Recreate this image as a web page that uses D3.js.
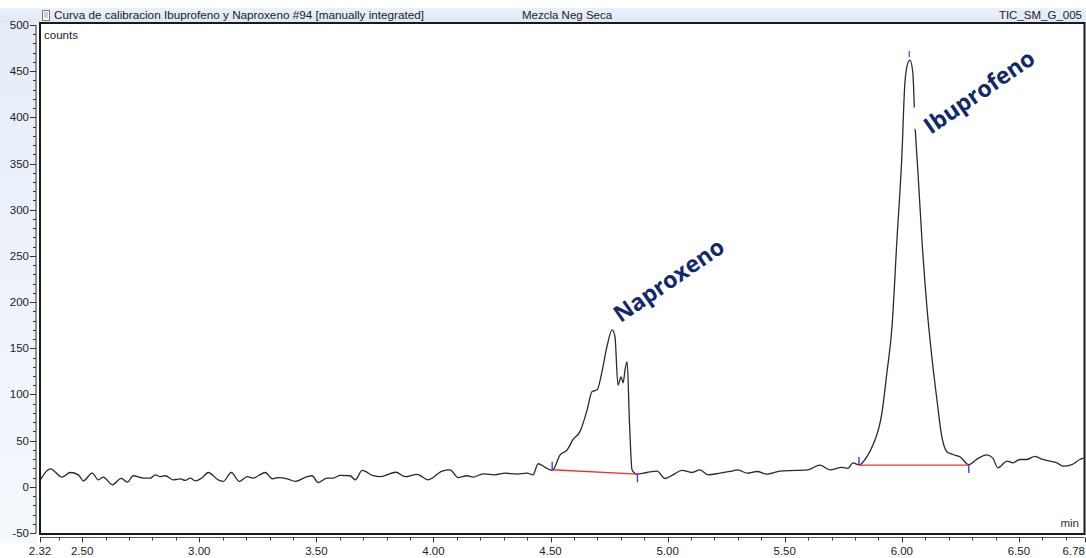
<!DOCTYPE html>
<html>
<head>
<meta charset="utf-8">
<script src="https://cdn.jsdelivr.net/npm/d3@7"></script>
<style>
  html, body { margin: 0; padding: 0; background: #ffffff; overflow: hidden; }
  svg { display: block; }
</style>
</head>
<body>
<svg id="chart" width="1086" height="558"></svg>
<script>
// TIC trace: retention time (min) and detector counts
const retentionTime = [
  2.32, 2.364, 2.415, 2.449, 2.484, 2.505, 2.543, 2.569, 2.590, 2.629,
  2.667, 2.693, 2.718, 2.761, 2.791, 2.812, 2.834, 2.855, 2.889, 2.919,
  2.940, 2.962, 2.983, 3.013, 3.038, 3.081, 3.102, 3.137, 3.171, 3.205,
  3.230, 3.252, 3.282, 3.312, 3.337, 3.376, 3.410, 3.461, 3.482, 3.508,
  3.546, 3.572, 3.602, 3.644, 3.666, 3.696, 3.743, 3.773, 3.840, 3.879,
  3.930, 3.977, 4.037, 4.071, 4.105, 4.144, 4.169, 4.212, 4.263, 4.306,
  4.357, 4.400, 4.425, 4.447, 4.477, 4.507, 4.541, 4.571, 4.596, 4.626,
  4.656, 4.677, 4.699, 4.720, 4.741, 4.763, 4.775, 4.788, 4.801, 4.810,
  4.818, 4.827, 4.837, 4.848, 4.869, 4.912, 4.955, 4.989, 5.023, 5.061,
  5.104, 5.138, 5.172, 5.224, 5.266, 5.300, 5.339, 5.382, 5.424, 5.480,
  5.552, 5.599, 5.650, 5.693, 5.744, 5.770, 5.791, 5.817, 5.851, 5.877,
  5.915, 5.936, 5.958, 5.979, 6.000, 6.013, 6.026, 6.035, 6.047, 6.056,
  6.069, 6.086, 6.107, 6.128, 6.150, 6.171, 6.192, 6.218, 6.248, 6.286,
  6.321, 6.363, 6.389, 6.410, 6.449, 6.474, 6.504, 6.534, 6.568, 6.602,
  6.632, 6.662, 6.688, 6.726, 6.760, 6.78
];
const counts = [
  7, 19.5, 10.5, 15.5, 13, 6.5, 14.8, 7.6, 10.5, 2.2,
  9.2, 5, 12, 9.4, 9.4, 13, 11, 12, 7.6, 8.7,
  6.9, 9.4, 6.5, 10, 15.5, 7.6, 5.8, 15.5, 5.8, 11,
  9.4, 12, 15.5, 8.7, 10, 8.7, 5.8, 11, 12, 4.6,
  9.4, 9.4, 12.3, 12, 7.6, 17.7, 12, 11, 15.8, 11,
  13.5, 7.6, 17, 18.4, 10, 12, 10.5, 14, 13, 14.8,
  13.8, 14.8, 13, 25, 21, 17.7, 34.6, 40, 51, 60,
  83, 103, 105, 125, 152, 170, 163, 110, 119, 112.6,
  126.6, 135.6, 70, 18.4, 13.7, 15.5, 17, 9, 13, 17.7,
  15.5, 18.4, 13, 14.8, 16.6, 18.4, 14.8, 16.6, 13.8, 17,
  17.7, 18.4, 23.4, 18.4, 21, 20, 26, 23.7, 32.8, 45.5,
  80, 123, 173, 267, 357, 437, 459, 462, 448, 394,
  340, 267, 195, 141, 94, 54, 38, 35, 32.5, 24,
  30, 34.6, 31, 20.5, 27.8, 26, 29.6, 29.6, 33, 29.6,
  27.8, 26, 22.4, 24.1, 29.6, 31.4
];

// Manual integration of the two peaks
const peakNames = ["Naproxeno", "Ibuprofeno"];
const peakStartTime = [4.507, 5.817];
const peakEndTime = [4.871, 6.286];
const baselineStartCounts = [18.4, 23.5];
const baselineEndCounts = [13.7, 23.5];
const apexTime = [6.032];
const apexCounts = [462];

// Axis ticks
const xMajorTicks = [2.32, 2.5, 3.0, 3.5, 4.0, 4.5, 5.0, 5.5, 6.0, 6.5, 6.78];
const xMajorLabels = ["2.32", "2.50", "3.00", "3.50", "4.00", "4.50", "5.00", "5.50", "6.00", "6.50", "6.78"];
const xMinorTicks = [2.4, 2.6, 2.7, 2.8, 2.9, 3.1, 3.2, 3.3, 3.4, 3.6, 3.7, 3.8, 3.9,
  4.1, 4.2, 4.3, 4.4, 4.6, 4.7, 4.8, 4.9, 5.1, 5.2, 5.3, 5.4, 5.6, 5.7, 5.8, 5.9,
  6.1, 6.2, 6.3, 6.4, 6.6, 6.7];
const yMajorTicks = [-50, 0, 50, 100, 150, 200, 250, 300, 350, 400, 450, 500];

// Header strings
const titleText = "Curva de calibracion Ibuprofeno y Naproxeno #94 [manually integrated]";
const sampleText = "Mezcla Neg Seca";
const traceText = "TIC_SM_G_005";

const W = 1086, H = 558;
const frame = { left: 40, right: 1084.5, top: 23, bottom: 534 };

const svg = d3.select("#chart");
const font = "'Liberation Sans', Arial, sans-serif";

const x = d3.scaleLinear().domain([2.32, 6.78]).range([frame.left, frame.right]);
const y = d3.scaleLinear().domain([-50, 500]).range([533, 25]);

// Backgrounds: header strip and left axis strip
const defs = svg.append("defs");
const lg = defs.append("linearGradient").attr("id", "sideGrad")
  .attr("x1", 0).attr("y1", 0).attr("x2", 0).attr("y2", 1);
lg.append("stop").attr("offset", "0%").attr("stop-color", "#e6edf8");
lg.append("stop").attr("offset", "100%").attr("stop-color", "#f5f8fd");
const hg = defs.append("linearGradient").attr("id", "headGrad")
  .attr("x1", 0).attr("y1", 0).attr("x2", 0).attr("y2", 1);
hg.append("stop").attr("offset", "0%").attr("stop-color", "#eaf1fb");
hg.append("stop").attr("offset", "100%").attr("stop-color", "#dfe8f6");

svg.append("rect").attr("x", 0).attr("y", 8).attr("width", W).attr("height", 15)
  .attr("fill", "url(#headGrad)");
svg.append("rect").attr("x", 0).attr("y", 23).attr("width", 37).attr("height", 520)
  .attr("fill", "url(#sideGrad)");

defs.append("clipPath").attr("id", "plotClip").append("rect")
  .attr("x", frame.left + 1).attr("y", frame.top + 1)
  .attr("width", frame.right - frame.left - 2).attr("height", frame.bottom - frame.top - 2);

// Plot area
svg.append("rect").attr("x", frame.left).attr("y", frame.top)
  .attr("width", frame.right - frame.left).attr("height", frame.bottom - frame.top)
  .attr("fill", "#ffffff");

// Header icon
const icon = svg.append("g").attr("transform", "translate(42,10)");
icon.append("rect").attr("x", 0.5).attr("y", 0.5).attr("width", 7).attr("height", 10)
  .attr("fill", "#ffffff").attr("stroke", "#777").attr("stroke-width", 1);
[3, 5, 7].forEach(v => icon.append("line").attr("x1", 2).attr("x2", 6)
  .attr("y1", v).attr("y2", v).attr("stroke", "#888").attr("stroke-width", 0.8));

svg.append("text").attr("x", 54).attr("y", 19).attr("font-family", font)
  .attr("font-size", 11).attr("fill", "#222")
  .attr("textLength", 370).attr("lengthAdjust", "spacingAndGlyphs").text(titleText);
svg.append("text").attr("x", 522).attr("y", 19).attr("font-family", font)
  .attr("font-size", 11.5).attr("fill", "#222").text(sampleText);
svg.append("text").attr("x", 1082).attr("y", 19).attr("text-anchor", "end")
  .attr("font-family", font).attr("font-size", 11.5).attr("fill", "#222").text(traceText);

// Y axis (drawn just left of the frame)
const yAxisX = 36;
svg.append("line").attr("x1", yAxisX).attr("x2", yAxisX)
  .attr("y1", y(500)).attr("y2", y(-50)).attr("stroke", "#333").attr("stroke-width", 1);
const yMinor = d3.range(-50, 501, 10).filter(v => v % 50 !== 0);
svg.append("g").selectAll("line").data(yMinor).join("line")
  .attr("x1", yAxisX - 3).attr("x2", yAxisX)
  .attr("y1", d => Math.round(y(d)) + 0.5).attr("y2", d => Math.round(y(d)) + 0.5)
  .attr("stroke", "#333").attr("stroke-width", 1);
svg.append("g").selectAll("line").data(yMajorTicks).join("line")
  .attr("x1", yAxisX - 6).attr("x2", yAxisX)
  .attr("y1", d => Math.round(y(d)) + 0.5).attr("y2", d => Math.round(y(d)) + 0.5)
  .attr("stroke", "#333").attr("stroke-width", 1);
svg.append("g").selectAll("text").data(yMajorTicks).join("text")
  .attr("x", 29).attr("y", d => y(d) + 4).attr("text-anchor", "end")
  .attr("font-family", font).attr("font-size", 11.5).attr("fill", "#222")
  .text(d => d);

// X axis (drawn just below the frame)
const xAxisY = 537.5;
svg.append("line").attr("x1", frame.left).attr("x2", frame.right)
  .attr("y1", xAxisY).attr("y2", xAxisY).attr("stroke", "#555").attr("stroke-width", 1);
svg.append("g").selectAll("line").data(xMinorTicks).join("line")
  .attr("x1", d => Math.round(x(d)) + 0.5).attr("x2", d => Math.round(x(d)) + 0.5)
  .attr("y1", xAxisY).attr("y2", xAxisY + 3).attr("stroke", "#333");
svg.append("g").selectAll("line").data(xMajorTicks).join("line")
  .attr("x1", d => Math.round(x(d)) + 0.5).attr("x2", d => Math.round(x(d)) + 0.5)
  .attr("y1", xAxisY).attr("y2", xAxisY + 5).attr("stroke", "#333");
const lastTick = xMajorTicks.length - 1;
svg.append("g").selectAll("text").data(xMajorTicks).join("text")
  .attr("x", (d, i) => i === lastTick ? W - 1 : x(d)).attr("y", 555)
  .attr("text-anchor", (d, i) => i === lastTick ? "end" : "middle")
  .attr("font-family", font).attr("font-size", 11.5).attr("fill", "#222")
  .text((d, i) => xMajorLabels[i]);

// Frame
svg.append("rect").attr("x", frame.left).attr("y", frame.top)
  .attr("width", frame.right - frame.left).attr("height", frame.bottom - frame.top)
  .attr("fill", "none").attr("stroke", "#1a1a1a").attr("stroke-width", 2);

svg.append("text").attr("x", 44).attr("y", 39).attr("font-family", font)
  .attr("font-size", 11.5).attr("fill", "#222").text("counts");
svg.append("text").attr("x", 1079).attr("y", 527).attr("text-anchor", "end")
  .attr("font-family", font).attr("font-size", 11.5).attr("fill", "#3a2a3a").text("min");

const plot = svg.append("g").attr("clip-path", "url(#plotClip)");

// Chromatogram trace
const trace = retentionTime.map((t, i) => [t, counts[i]]);
plot.append("path").datum(trace)
  .attr("fill", "none").attr("stroke", "#2a2a2a").attr("stroke-width", 1.3)
  .attr("stroke-linejoin", "round")
  .attr("d", d3.line().x(d => x(d[0])).y(d => y(d[1])).curve(d3.curveMonotoneX));

// Integration baselines and delimiters
peakNames.forEach((name, i) => {
  plot.append("line")
    .attr("x1", x(peakStartTime[i])).attr("y1", y(baselineStartCounts[i]))
    .attr("x2", x(peakEndTime[i])).attr("y2", y(baselineEndCounts[i]))
    .attr("stroke", "#f03030").attr("stroke-width", 1.4);
  plot.append("line")
    .attr("x1", x(peakStartTime[i])).attr("x2", x(peakStartTime[i]))
    .attr("y1", y(baselineStartCounts[i]) - 8).attr("y2", y(baselineStartCounts[i]))
    .attr("stroke", "#3a3af0").attr("stroke-width", 1.4);
  plot.append("line")
    .attr("x1", x(peakEndTime[i])).attr("x2", x(peakEndTime[i]))
    .attr("y1", y(baselineEndCounts[i])).attr("y2", y(baselineEndCounts[i]) + 8)
    .attr("stroke", "#3a3af0").attr("stroke-width", 1.4);
});
apexTime.forEach((t, i) => {
  plot.append("line")
    .attr("x1", x(t)).attr("x2", x(t))
    .attr("y1", y(apexCounts[i]) - 9).attr("y2", y(apexCounts[i]) - 3)
    .attr("stroke", "#5a5af5").attr("stroke-width", 1.4);
});

// Peak names, rotated along the slope
const labelFont = "'Open Sans', Lato, sans-serif";
const labels = [
  { name: peakNames[0], t: 4.799, c: 177, bg: false },
  { name: peakNames[1], t: 6.124, c: 381, bg: true }
];
labels.forEach(l => {
  const g = svg.append("g")
    .attr("transform", `translate(${x(l.t)},${y(l.c)}) rotate(-34.5)`);
  const txt = g.append("text").attr("x", 0).attr("y", 0)
    .attr("font-family", labelFont).attr("font-weight", 700)
    .attr("font-size", 23).attr("fill", "#10296a").text(l.name);
  if (l.bg) {
    const len = txt.node().getComputedTextLength();
    g.insert("rect", "text").attr("x", -9.5).attr("y", -32)
      .attr("width", len + 16).attr("height", 38).attr("fill", "#ffffff");
  }
});
</script>
</body>
</html>
